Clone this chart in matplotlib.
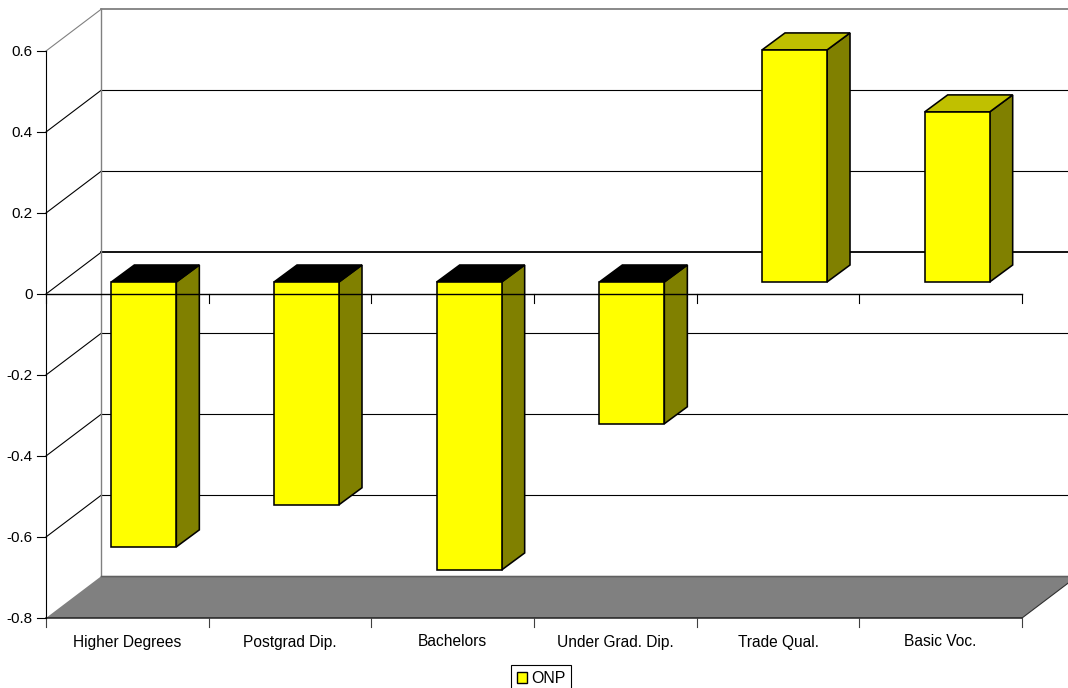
import matplotlib
matplotlib.use("Agg")
import matplotlib.pyplot as plt
from matplotlib.patches import Polygon, Patch

categories = ["Higher Degrees", "Postgrad Dip.", "Bachelors",
              "Under Grad. Dip.", "Trade Qual.", "Basic Voc."]
onp_values = [-0.654, -0.55, -0.711, -0.35, 0.573, 0.42]
value_ticks = [-0.8, -0.6, -0.4, -0.2, 0, 0.2, 0.4, 0.6]
value_labels = ["-0.8", "-0.6", "-0.4", "-0.2", "0", "0.2", "0.4", "0.6"]

W, H = 1068, 688
X0, CAT_W = 46, 162.67      # pixel left edge and width of one category
Y0, UNIT = 294, 405         # pixel of value 0 and pixels per unit value
px = 1 / CAT_W
py = 1 / UNIT

plt.rcParams["font.family"] = ["Liberation Sans", "DejaVu Sans"]
fig = plt.figure(figsize=(W / 100, H / 100), dpi=100, facecolor="white")
ax = fig.add_axes([0, 0, 1, 1])
ax.set_xlim(-X0 * px, (W - X0) * px)
ax.set_ylim((Y0 - H) * py, Y0 * py)
ax.axis("off")

n = len(categories)
lo, hi = value_ticks[0], value_ticks[-1]
dx, dy = 55.5 * px, 42 * py           # depth of the back wall
LW = 0.8
GREY = "#808080"

# Floor
ax.add_patch(Polygon([(0, lo), (n, lo), (n + dx, lo + dy), (dx, lo + dy)],
                     closed=True, fc=GREY, ec="none", zorder=1))
ax.plot([0, n], [lo, lo], color="#202020", lw=1.1, zorder=1.5)
ax.plot([dx, n + dx], [lo + dy, lo + dy], color="#606060", lw=1.0, zorder=1.5)
ax.plot([n, n + dx], [lo, lo + dy], color="#303030", lw=LW, zorder=1.5)

# Back wall: gridlines, left edge and the slanted side-wall lines
for v in value_ticks:
    top = v == hi
    zero = v == 0
    ax.plot([dx, n + dx], [v + dy, v + dy], color=GREY if top else "black",
            lw=1.3 if (top or zero) else LW, zorder=1)
    if v != lo:
        ax.plot([0, dx], [v, v + dy], color=GREY if top else "black", lw=LW, zorder=1)
ax.plot([dx, dx], [lo + dy, hi + dy], color=GREY, lw=1.0, zorder=1)

# Bars as oblique boxes
bar_half = 32.5 * px
bar_dx, bar_dy = 16.5 * px, 12 * py   # bar placement inside the depth
side_dx, side_dy = 23 * px, 17 * py   # bar thickness in depth
EDGE = 1.15
for i, v in enumerate(onp_values):
    xl = i + 0.5 + bar_dx - bar_half
    xr = i + 0.5 + bar_dx + bar_half
    base, end = bar_dy, v + bar_dy
    upper, lower = max(base, end), min(base, end)
    ax.add_patch(Polygon([(xr, lower), (xr + side_dx, lower + side_dy),
                          (xr + side_dx, upper + side_dy), (xr, upper)],
                         closed=True, fc="#808000", ec="black", lw=EDGE, zorder=3))
    ax.add_patch(Polygon([(xl, upper), (xr, upper), (xr + side_dx, upper + side_dy),
                          (xl + side_dx, upper + side_dy)],
                         closed=True, fc="black" if v < 0 else "#c0c000",
                         ec="black", lw=EDGE, zorder=3))
    ax.add_patch(Polygon([(xl, lower), (xr, lower), (xr, upper), (xl, upper)],
                         closed=True, fc="#ffff00", ec="black", lw=EDGE, zorder=3))

# Front axes, drawn across the bars
ax.plot([0, 0], [lo, hi], color="black", lw=LW, zorder=4)
ax.plot([0, n], [0, 0], color="black", lw=1.0, zorder=4)
tick_y = 9 * py
tick_x = 9 * px
for i in range(n + 1):
    ax.plot([i, i], [lo, lo - tick_y], color="#404040", lw=LW, zorder=4)
    ax.plot([i, i], [0, -tick_y], color="black", lw=LW, zorder=4)
for v, label in zip(value_ticks, value_labels):
    ax.plot([-tick_x, 0], [v, v], color="black", lw=LW, zorder=4)
    ax.text(-13 * px, v - 1 * py, label, ha="right", va="center",
            fontsize=11, color="black")

for i, name in enumerate(categories):
    ax.text(i + 0.5, lo - 24 * py, name, ha="center", va="center",
            fontsize=11.2, color="black")

# Legend box runs off the bottom edge of the figure
legend = ax.legend(handles=[Patch(fc="#ffff00", ec="black", lw=1.0, label="ONP")],
                   loc="upper left", bbox_to_anchor=(511 / W, 1 - 665 / H),
                   bbox_transform=ax.transAxes, fontsize=11.5, frameon=True,
                   fancybox=False, edgecolor="black", framealpha=1,
                   borderaxespad=0, borderpad=0.38, handlelength=0.65,
                   handleheight=0.65, handletextpad=0.22)
legend.get_frame().set_linewidth(0.8)
legend.set_zorder(5)

fig.savefig("out.png", dpi=100)
